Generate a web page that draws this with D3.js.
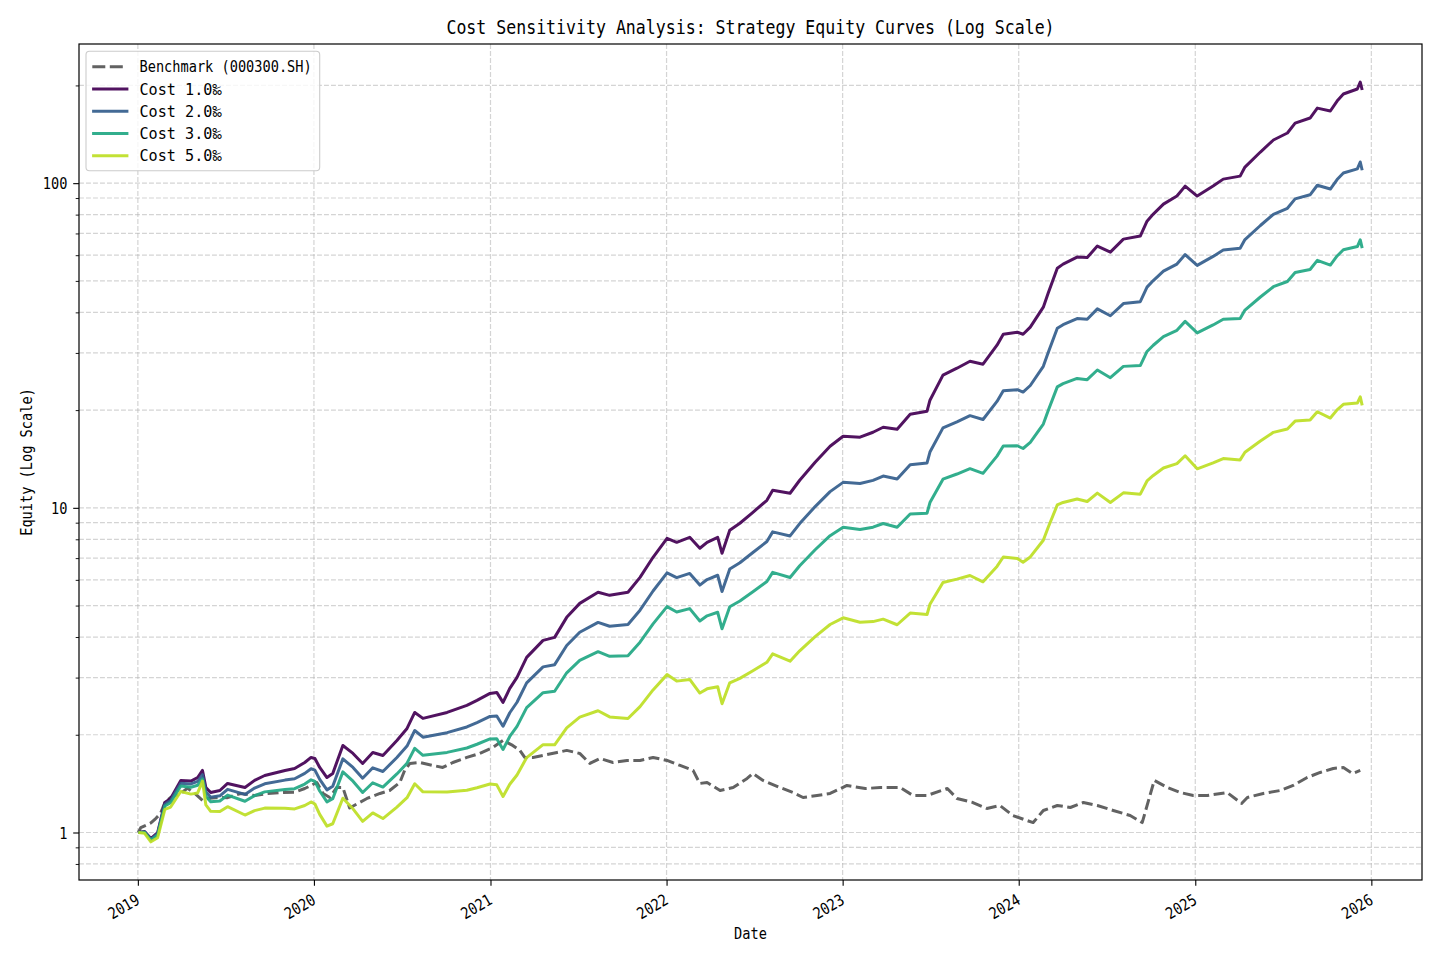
<!DOCTYPE html>
<html>
<head>
<meta charset="utf-8">
<script src="https://cdn.jsdelivr.net/npm/d3@7"></script>
<style>
  html, body { margin: 0; padding: 0; background: #ffffff; }
  svg { display: block; }
</style>
</head>
<body>
<svg id="chart" width="1440" height="960"></svg>
<script>
// ---------------- DATA ----------------
const stratDates = [
"2019-01-02","2019-01-15","2019-01-28","2019-02-11","2019-02-26","2019-03-10","2019-03-31","2019-04-21","2019-05-05","2019-05-15",
"2019-05-22","2019-06-01","2019-06-20","2019-07-06","2019-08-11","2019-08-31","2019-09-21","2019-11-02","2019-11-22","2019-12-13",
"2019-12-26","2020-01-03","2020-01-13","2020-01-28","2020-02-09","2020-03-01","2020-03-22","2020-04-11","2020-05-02","2020-05-23",
"2020-06-21","2020-07-12","2020-07-28","2020-08-14","2020-10-03","2020-11-13","2020-12-04","2020-12-31","2021-01-14","2021-01-27",
"2021-02-10","2021-02-25","2021-03-17","2021-04-20","2021-05-14","2021-06-08","2021-07-05","2021-08-12","2021-09-05","2021-10-13",
"2021-11-07","2021-12-04","2022-01-02","2022-01-22","2022-02-18","2022-03-11","2022-03-26","2022-04-17","2022-04-26","2022-05-12",
"2022-06-02","2022-06-29","2022-07-28","2022-08-09","2022-09-14","2022-10-04","2022-11-05","2022-12-06","2023-01-02","2023-02-06",
"2023-03-05","2023-03-26","2023-04-24","2023-05-21","2023-06-25","2023-07-01","2023-07-28","2023-08-26","2023-09-22","2023-10-19",
"2023-11-17","2023-11-30","2023-12-29","2024-01-10","2024-01-25","2024-02-21","2024-03-02","2024-03-21","2024-04-02","2024-05-01",
"2024-05-22","2024-06-12","2024-07-09","2024-08-05","2024-09-09","2024-09-23","2024-10-06","2024-10-27","2024-11-24","2024-12-11",
"2025-01-05","2025-02-07","2025-02-28","2025-04-04","2025-04-14","2025-05-16","2025-06-12","2025-07-11","2025-07-27","2025-08-27",
"2025-09-11","2025-10-08","2025-10-22","2025-11-04","2025-12-03","2025-12-09","2025-12-13"
];

const cost10 = [
1.000,1.007,0.958,1.000,1.237,1.273,1.447,1.440,1.477,1.553,
1.376,1.328,1.347,1.416,1.376,1.447,1.498,1.553,1.575,1.643,
1.703,1.691,1.586,1.477,1.520,1.854,1.752,1.632,1.764,1.727,
1.921,2.092,2.343,2.246,2.343,2.463,2.552,2.682,2.701,2.516,
2.779,3.004,3.462,3.906,3.990,4.599,5.079,5.493,5.376,5.493,
6.107,7.041,8.056,7.831,8.113,7.506,7.831,8.113,7.244,8.526,
8.963,9.689,10.55,11.32,11.09,12.16,13.81,15.48,16.62,16.50,
17.09,17.71,17.46,19.42,19.84,21.45,25.62,26.92,28.29,27.70,
31.69,34.25,34.75,34.25,36.01,41.50,45.84,54.73,56.31,59.19,
59.00,63.99,61.32,67.23,68.70,76.39,80.29,86.19,91.25,97.95,
91.25,97.95,102.9,105.1,112.1,124.7,135.8,142.7,153.1,158.7,
170.3,166.8,179.0,188.2,195.0,204.9,193.6
];

const cost20 = [
1.000,1.004,0.953,0.991,1.222,1.254,1.418,1.411,1.437,1.507,
1.334,1.284,1.297,1.358,1.310,1.370,1.413,1.450,1.464,1.521,
1.572,1.557,1.457,1.353,1.388,1.686,1.586,1.470,1.582,1.541,
1.703,1.846,2.061,1.966,2.030,2.114,2.181,2.278,2.286,2.124,
2.338,2.519,2.891,3.237,3.288,3.768,4.138,4.436,4.317,4.374,
4.838,5.543,6.303,6.097,6.280,5.781,6.013,6.199,5.523,6.479,
6.774,7.282,7.875,8.433,8.192,8.942,10.09,11.22,11.98,11.88,
12.15,12.53,12.27,13.57,13.75,14.85,17.63,18.40,19.23,18.71,
21.27,22.94,23.12,22.73,23.81,27.28,30.04,35.72,36.65,38.28,
38.10,41.01,39.05,42.56,43.14,47.83,50.12,53.57,56.33,60.25,
55.81,59.48,62.21,63.04,67.04,74.06,80.15,83.69,89.47,92.08,
98.54,95.90,102.6,107.5,110.7,116.2,109.6
];

const cost30 = [
1.000,1.001,0.947,0.982,1.207,1.235,1.391,1.378,1.398,1.463,
1.293,1.243,1.250,1.304,1.248,1.299,1.334,1.357,1.364,1.410,
1.453,1.438,1.342,1.243,1.271,1.537,1.439,1.328,1.423,1.380,
1.515,1.635,1.817,1.729,1.765,1.821,1.870,1.942,1.944,1.801,
1.976,2.123,2.424,2.696,2.724,3.104,3.388,3.604,3.488,3.505,
3.856,4.391,4.962,4.778,4.894,4.483,4.649,4.768,4.241,4.958,
5.163,5.514,5.928,6.329,6.101,6.630,7.428,8.209,8.710,8.576,
8.717,8.950,8.710,9.575,9.630,10.38,12.25,12.71,13.20,12.77,
14.43,15.51,15.53,15.23,15.91,18.11,19.91,23.58,24.13,25.04,
24.81,26.58,25.17,27.27,27.43,30.31,31.68,33.70,35.22,37.52,
34.57,36.58,38.08,38.30,40.64,44.60,47.98,49.78,53.05,54.23,
57.84,55.95,59.68,62.37,63.79,66.87,63.06
];

const cost50 = [
1.000,0.994,0.936,0.964,1.178,1.198,1.337,1.313,1.324,1.440,
1.216,1.162,1.160,1.201,1.132,1.168,1.189,1.187,1.182,1.211,
1.242,1.224,1.137,1.046,1.064,1.275,1.183,1.082,1.149,1.104,
1.197,1.280,1.413,1.334,1.332,1.350,1.374,1.410,1.402,1.291,
1.408,1.503,1.701,1.864,1.863,2.101,2.266,2.371,2.270,2.244,
2.442,2.749,3.064,2.926,2.961,2.689,2.770,2.813,2.492,2.892,
2.984,3.150,3.344,3.550,3.370,3.628,4.011,4.372,4.584,4.443,
4.463,4.541,4.364,4.741,4.694,5.048,5.887,6.030,6.189,5.917,
6.600,7.056,6.977,6.802,7.059,7.947,8.696,10.21,10.39,10.65,
10.46,11.10,10.39,11.12,11.02,12.10,12.58,13.26,13.68,14.47,
13.19,13.75,14.18,14.05,14.84,16.06,17.08,17.49,18.50,18.65,
19.77,18.90,20.03,20.83,21.03,21.98,20.69
];

const benchDates = [
"2019-01-02","2019-01-07","2019-01-28","2019-02-07","2019-02-17","2019-02-26","2019-03-10","2019-03-31","2019-04-14","2019-04-29",
"2019-05-15","2019-05-26","2019-06-16","2019-07-06","2019-08-02","2019-08-31","2019-09-27","2019-10-24","2019-11-22","2019-12-13",
"2019-12-26","2020-01-07","2020-01-20","2020-02-03","2020-02-17","2020-03-01","2020-03-15","2020-04-20","2020-05-17","2020-06-06",
"2020-06-27","2020-07-07","2020-07-18","2020-08-07","2020-09-03","2020-09-24","2020-10-15","2020-11-13","2020-12-10","2021-01-06",
"2021-01-27","2021-02-16","2021-03-03","2021-03-13","2021-03-30","2021-04-20","2021-05-19","2021-06-08","2021-07-05","2021-07-26",
"2021-08-16","2021-09-12","2021-10-11","2021-11-07","2021-12-04","2022-01-02","2022-01-29","2022-02-25","2022-03-11","2022-03-26",
"2022-04-22","2022-05-19","2022-06-17","2022-06-29","2022-07-20","2022-08-24","2022-09-20","2022-10-11","2022-11-09","2022-12-06",
"2023-01-10","2023-02-17","2023-03-20","2023-04-30","2023-05-27","2023-06-25","2023-08-06","2023-08-26","2023-09-28","2023-10-27",
"2023-11-23","2023-12-20","2024-01-18","2024-01-31","2024-02-21","2024-03-21","2024-04-17","2024-05-14","2024-06-12","2024-07-15",
"2024-08-19","2024-09-13","2024-10-08","2024-11-04","2024-12-01","2024-12-28","2025-01-26","2025-03-08","2025-04-07","2025-04-19",
"2025-05-22","2025-06-26","2025-07-23","2025-08-21","2025-09-17","2025-10-14","2025-11-04","2025-11-23","2025-12-09"
];

const benchmark = [
1.000,1.035,1.070,1.104,1.144,1.237,1.282,1.319,1.370,1.319,
1.255,1.273,1.282,1.280,1.319,1.300,1.319,1.328,1.330,1.366,
1.396,1.426,1.319,1.282,1.376,1.376,1.190,1.273,1.319,1.347,
1.426,1.553,1.632,1.643,1.609,1.586,1.643,1.703,1.752,1.828,
1.921,1.854,1.790,1.703,1.703,1.727,1.764,1.790,1.752,1.632,
1.691,1.643,1.667,1.667,1.703,1.667,1.609,1.553,1.416,1.426,
1.347,1.376,1.467,1.520,1.447,1.376,1.328,1.282,1.300,1.319,
1.396,1.366,1.376,1.376,1.300,1.300,1.366,1.273,1.237,1.186,
1.211,1.128,1.089,1.073,1.169,1.211,1.194,1.237,1.211,1.169,
1.128,1.073,1.447,1.376,1.328,1.300,1.300,1.328,1.229,1.282,
1.319,1.347,1.396,1.477,1.531,1.575,1.586,1.520,1.553
];

const seriesNames = ["Cost 1.0\u2030", "Cost 2.0\u2030", "Cost 3.0\u2030", "Cost 5.0\u2030"];
const benchName = "Benchmark (000300.SH)";
const yMajorTicks = [1, 10, 100];
const xTickYears = ["2019","2020","2021","2022","2023","2024","2025","2026"];
const titleText = "Cost Sensitivity Analysis: Strategy Equity Curves (Log Scale)";
const xLabelText = "Date";
const yLabelText = "Equity (Log Scale)";

// ---------------- SETUP ----------------
const W = 1440, H = 960;
const M = { left: 79, right: 1422, top: 44, bottom: 880 };
const FONT = "'DejaVu Sans Mono', 'Liberation Mono', monospace";
const parse = d3.utcParse("%Y-%m-%d");

const x = d3.scaleUtc()
  .domain([parse("2018-09-01"), parse("2026-04-16")])
  .range([M.left, M.right]);
const y = d3.scaleLog()
  .domain([0.714, 268.3])
  .range([M.bottom, M.top]);

const svg = d3.select("#chart");
svg.append("rect").attr("width", W).attr("height", H).attr("fill", "#ffffff");

svg.append("defs").append("clipPath").attr("id", "plotclip")
  .append("rect")
  .attr("x", M.left).attr("y", M.top)
  .attr("width", M.right - M.left).attr("height", M.bottom - M.top);

function charUnits(s) {
  let n = 0;
  for (const ch of s) n += (ch === "\u2030") ? 2 : 1;
  return n;
}
function styleText(sel, size, perChar) {
  sel.attr("font-family", FONT)
     .attr("font-size", size)
     .attr("fill", "#000")
     .attr("lengthAdjust", "spacingAndGlyphs")
     .attr("textLength", function() { return charUnits(this.textContent) * perChar; });
}

// ---------------- GRID ----------------
const minorVals = [];
[0.1, 1, 10, 100].forEach(dec => {
  for (let k = 2; k <= 9; k++) {
    const v = dec * k;
    if (v > y.domain()[0] && v < y.domain()[1]) minorVals.push(v);
  }
});
const gridG = svg.append("g").attr("class", "grid");
const gridStyle = s => s.attr("stroke", "#b0b0b0").attr("stroke-opacity", 0.55)
  .attr("stroke-width", 1.2).attr("stroke-dasharray", "4.9,2.1");

gridG.selectAll("line.hy").data(yMajorTicks.concat(minorVals)).join("line")
  .attr("x1", M.left).attr("x2", M.right)
  .attr("y1", d => y(d)).attr("y2", d => y(d))
  .call(gridStyle);

const xTickDates = xTickYears.map(yr => parse(yr + "-01-01"));
gridG.selectAll("line.vx").data(xTickDates).join("line")
  .attr("y1", M.top).attr("y2", M.bottom)
  .attr("x1", d => x(d)).attr("x2", d => x(d))
  .call(gridStyle);

// ---------------- LINES ----------------
const colorVals = [0, 0.3, 0.6, 0.9].map(t => d3.interpolateViridis(t));
const linesG = svg.append("g").attr("clip-path", "url(#plotclip)");

const benchData = benchDates.map((d, i) => ({ date: parse(d), v: benchmark[i] }));
const lineGen = d3.line().x(d => x(d.date)).y(d => y(d.v)).curve(d3.curveLinear);

linesG.append("path")
  .datum(benchData)
  .attr("d", lineGen)
  .attr("fill", "none")
  .attr("stroke", "#626262")
  .attr("stroke-width", 3)
  .attr("stroke-dasharray", "11,4.5")
  .attr("stroke-linejoin", "round");

const strategies = [cost10, cost20, cost30, cost50];
strategies.forEach((vals, si) => {
  const data = stratDates.map((d, i) => ({ date: parse(d), v: vals[i] }));
  linesG.append("path")
    .datum(data)
    .attr("d", lineGen)
    .attr("fill", "none")
    .attr("stroke", colorVals[si])
    .attr("stroke-opacity", 0.93)
    .attr("stroke-width", 3)
    .attr("stroke-linejoin", "round");
});

// ---------------- AXES ----------------
const yAxis = svg.append("g").attr("transform", `translate(${M.left},0)`)
  .call(d3.axisLeft(y).tickValues(yMajorTicks).tickFormat(d3.format("d")).tickSize(5.8).tickPadding(5.8));
yAxis.select(".domain").remove();
yAxis.selectAll(".tick line").attr("stroke", "#000").attr("stroke-width", 1.1);
yAxis.selectAll(".tick text")
  .attr("dy", null).attr("y", 5.6)
  .call(s => styleText(s, 16, 8.2));

const yMinor = svg.append("g").attr("transform", `translate(${M.left},0)`)
  .call(d3.axisLeft(y).tickValues(minorVals).tickFormat("").tickSize(3.3));
yMinor.select(".domain").remove();
yMinor.selectAll(".tick line").attr("stroke", "#000").attr("stroke-width", 0.9);

const xAxis = svg.append("g").attr("transform", `translate(0,${M.bottom})`)
  .call(d3.axisBottom(x).tickValues(xTickDates).tickFormat(d3.utcFormat("%Y")).tickSize(5.8));
xAxis.select(".domain").remove();
xAxis.selectAll(".tick line").attr("stroke", "#000").attr("stroke-width", 1.1);
xAxis.selectAll(".tick text")
  .attr("dy", null).attr("x", 0).attr("y", 11.8)
  .attr("text-anchor", "end")
  .attr("transform", "translate(-3.5,13) rotate(-30)")
  .call(s => styleText(s, 16, 8.2));

svg.append("rect")
  .attr("x", M.left).attr("y", M.top)
  .attr("width", M.right - M.left).attr("height", M.bottom - M.top)
  .attr("fill", "none").attr("stroke", "#000").attr("stroke-width", 1.2);

// ---------------- LABELS ----------------
svg.append("text").text(titleText)
  .attr("x", (M.left + M.right) / 2).attr("y", 34)
  .attr("text-anchor", "middle")
  .call(s => styleText(s, 19, 9.97));

svg.append("text").text(xLabelText)
  .attr("x", (M.left + M.right) / 2).attr("y", 939)
  .attr("text-anchor", "middle")
  .call(s => styleText(s, 16, 8.2));

svg.append("text").text(yLabelText)
  .attr("text-anchor", "middle")
  .attr("transform", `translate(32,${(M.top + M.bottom) / 2}) rotate(-90)`)
  .call(s => styleText(s, 16, 8.2));

// ---------------- LEGEND ----------------
const leg = svg.append("g");
leg.append("rect")
  .attr("x", 86).attr("y", 51.3).attr("width", 233.7).attr("height", 119.4)
  .attr("rx", 3.5).attr("ry", 3.5)
  .attr("fill", "#ffffff").attr("fill-opacity", 0.8)
  .attr("stroke", "#cccccc").attr("stroke-width", 1.1);

const legendItems = [{ name: benchName, color: "#626262", dashed: true }]
  .concat(seriesNames.map((n, i) => ({ name: n, color: colorVals[i], dashed: false })));

legendItems.forEach((it, i) => {
  const cy = 66.7 + i * 22.25;
  const ln = leg.append("line")
    .attr("x1", it.dashed ? 92.3 : 93.6).attr("x2", it.dashed ? 126.5 : 126.9)
    .attr("y1", cy).attr("y2", cy)
    .attr("stroke", it.color)
    .attr("stroke-width", 3)
    .attr("stroke-opacity", it.dashed ? 1 : 0.93);
  if (it.dashed) ln.attr("stroke-dasharray", "13,4.5");
  else ln.attr("stroke-linecap", "square");
  leg.append("text").text(it.name)
    .attr("x", 139.5).attr("y", cy + 5.7)
    .call(s => styleText(s, 16, 8.2));
});
</script>
</body>
</html>
